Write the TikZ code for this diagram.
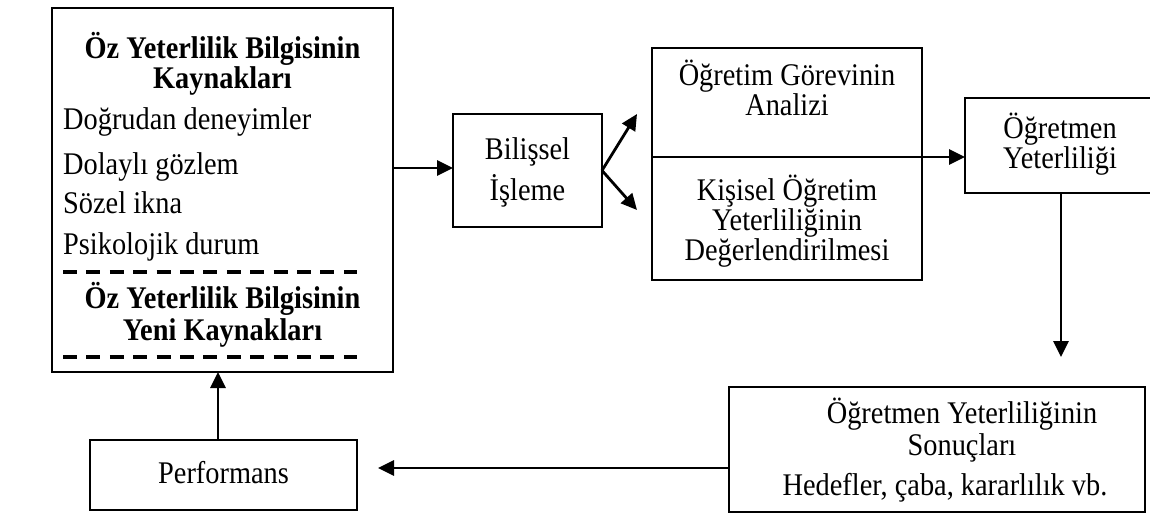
\documentclass[tikz,border=0pt]{standalone}
\usepackage{fontspec}
\setmainfont{Liberation Serif}[FakeStretch=0.9]
\usetikzlibrary{arrows.meta,calc}
\begin{document}
\begin{tikzpicture}[x=1pt,y=-1pt,
  box/.style={draw=black,line width=2.8pt,rectangle,inner sep=0pt,outer sep=0pt},
  txt/.style={anchor=base,inner sep=0pt,font=\fontsize{31.5}{32}\selectfont},
  ltxt/.style={txt,anchor=base west},
  btxt/.style={txt,font=\fontsize{31.5}{32}\selectfont\bfseries},
  arr/.style={line width=2.8pt,-{Triangle[length=16pt,width=15pt]}},
  sep/.style={line width=3.4pt,dash pattern=on 14pt off 9.4pt}]
\clip (0,0) rectangle (1150,514);
\fill[white] (0,0) rectangle (1150,514);

% boxes
\node[box,minimum width=341pt,minimum height=364pt] (lbox) at (222.5,190) {};
\node[box,minimum width=149pt,minimum height=113pt] (bil) at (527.5,170.5) {};
\node[box,minimum width=270pt,minimum height=232pt] (mid) at (787,164) {};
\node[box,minimum width=190pt,minimum height=95pt] (tch) at (1060,145.5) {};
\node[box,minimum width=416pt,minimum height=125pt] (res) at (937,449.5) {};
\node[box,minimum width=267pt,minimum height=70pt] (perf) at (223.5,475) {};

% sources of self-efficacy information
\node[btxt] (l1) at (222.5,58) {Öz Yeterlilik Bilgisinin};
\node[btxt] (l2) at (222.5,88) {Kaynakları};
\node[ltxt] (l3) at (63,129) {Doğrudan deneyimler};
\node[ltxt] (l4) at (63,174) {Dolaylı gözlem};
\node[ltxt] (l5) at (63,213) {Sözel ikna};
\node[ltxt] (l6) at (63,254) {Psikolojik durum};
\draw[sep] (63,272) -- (357,272);
\node[btxt] (l7) at (222.5,308) {Öz Yeterlilik Bilgisinin};
\node[btxt] (l8) at (222.5,340) {Yeni Kaynakları};
\draw[sep] (63,357) -- (357,357);

% cognitive processing
\node[txt] (b1) at (527.5,159) {Bilişsel};
\node[txt] (b2) at (527.5,200) {İşleme};

% analysis / assessment
\node[txt] (m1) at (787,85) {Öğretim Görevinin};
\node[txt] (m2) at (787,115) {Analizi};
\node[txt] (m3) at (787,200) {Kişisel Öğretim};
\node[txt] (m4) at (787,230) {Yeterliliğinin};
\node[txt] (m5) at (787,260) {Değerlendirilmesi};

% teacher efficacy
\node[txt] (t1) at (1060,138) {Öğretmen};
\node[txt] (t2) at (1060,168) {Yeterliliği};

% consequences
\node[txt] (r1) at (962,423) {Öğretmen Yeterliliğinin};
\node[txt] (r2) at (962,455) {Sonuçları};
\node[txt] (r3) at (945,495) {Hedefler, çaba, kararlılık vb.};

% performance
\node[txt] (p1) at (223.5,483) {Performans};

% connectors
\coordinate (div) at (652,157);
\coordinate (upT) at (637,114);
\coordinate (dnT) at (637,210);
\coordinate (downEnd) at (1061,357);
\coordinate (leftEnd) at (378,468);

\draw[arr] (lbox.east |- 0,168) -- (bil.west |- 0,168);
\draw[arr] (bil.east) -- (upT);
\draw[arr] (bil.east) -- (dnT);
\draw[arr] (div) -- (tch.west |- div);
\draw[arr] (tch.south -| downEnd) -- (downEnd);
\draw[arr] (res.west |- leftEnd) -- (leftEnd);
\draw[arr] ([xshift=-5.5pt]perf.north) -- ([xshift=-5.5pt]perf.north |- lbox.south);
\end{tikzpicture}
\end{document}
